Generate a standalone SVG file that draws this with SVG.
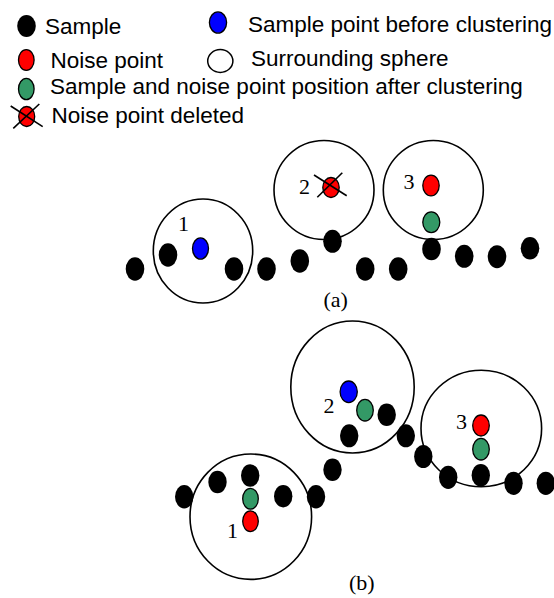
<svg xmlns="http://www.w3.org/2000/svg" width="554" height="598" viewBox="0 0 554 598">
<style>
.bg{fill:#fff}
.dot{fill:#000}
.red{fill:#ff0000;stroke:#000;stroke-width:1.3}
.grn{fill:#339966;stroke:#000;stroke-width:1.3}
.blu{fill:#0000ff;stroke:#000;stroke-width:1.3}
.wht{fill:#fff;stroke:#000;stroke-width:1.5}
.sph{fill:none;stroke:#000;stroke-width:1.6}
.x{stroke:#000;stroke-width:1.6;fill:none}
.lg{font-family:"Liberation Sans",Arial,sans-serif;font-size:22.5px;fill:#000}
.lb{font-family:"Liberation Serif","Times New Roman",serif;font-size:22px;fill:#000}
</style>
<rect class="bg" x="0" y="0" width="554" height="598"/>
<g id="legend">
  <g id="legend-sample">
    <ellipse class="dot" cx="26.5" cy="26" rx="9.3" ry="11"/>
    <text class="lg" x="45" y="34">Sample</text>
  </g>
  <g id="legend-before">
    <ellipse class="blu" cx="218" cy="22.5" rx="8.6" ry="10.6"/>
    <text class="lg" x="248" y="32">Sample point before clustering</text>
  </g>
  <g id="legend-noise">
    <ellipse class="red" cx="26.3" cy="60" rx="7.8" ry="10.4"/>
    <text class="lg" x="50.5" y="67.5">Noise point</text>
  </g>
  <g id="legend-sphere">
    <ellipse class="wht" cx="220.3" cy="61" rx="12.6" ry="11.4"/>
    <text class="lg" x="251" y="65.5">Surrounding sphere</text>
  </g>
  <g id="legend-after">
    <ellipse class="grn" cx="26.3" cy="89" rx="7.8" ry="10.6"/>
    <text class="lg" x="50" y="94">Sample and noise point position after clustering</text>
  </g>
  <g id="legend-deleted">
    <ellipse class="red" cx="26.7" cy="116.5" rx="8" ry="10"/>
    <line class="x" x1="10.7" y1="106" x2="42.7" y2="126.7"/>
    <line class="x" x1="39.3" y1="104" x2="13.3" y2="128.3"/>
    <text class="lg" x="51.5" y="122.5">Noise point deleted</text>
  </g>
</g>
<g id="panel-a">
  <g id="a-sphere1">
    <ellipse class="sph" cx="203" cy="251" rx="49.7" ry="52"/>
    <ellipse class="blu" cx="200.5" cy="248.5" rx="8" ry="10.6"/>
    <text class="lb" x="178" y="231">1</text>
  </g>
  <g id="a-sphere2">
    <ellipse class="sph" cx="324" cy="190" rx="50" ry="49.5"/>
    <ellipse class="red" cx="331" cy="187.5" rx="8.2" ry="10"/>
    <line class="x" x1="314" y1="175" x2="346.7" y2="195.7"/>
    <line class="x" x1="342.3" y1="172.7" x2="317.3" y2="197.3"/>
    <text class="lb" x="299" y="194.3">2</text>
  </g>
  <g id="a-sphere3">
    <ellipse class="sph" cx="433.3" cy="190" rx="50" ry="49.5"/>
    <ellipse class="red" cx="431" cy="185.5" rx="8.2" ry="10.4"/>
    <ellipse class="grn" cx="431.3" cy="222.2" rx="8.5" ry="10.4"/>
    <text class="lb" x="403.5" y="189.3">3</text>
  </g>
  <g id="a-samples">
    <ellipse class="dot" cx="135" cy="269" rx="9.3" ry="11.7"/>
    <ellipse class="dot" cx="168" cy="255" rx="9.3" ry="11.7"/>
    <ellipse class="dot" cx="234" cy="269" rx="9.3" ry="11.7"/>
    <ellipse class="dot" cx="266.5" cy="269" rx="9.3" ry="11.7"/>
    <ellipse class="dot" cx="299.8" cy="261" rx="9.3" ry="11.7"/>
    <ellipse class="dot" cx="332.5" cy="241.3" rx="9.3" ry="11.5"/>
    <ellipse class="dot" cx="365.2" cy="269" rx="9.3" ry="11.7"/>
    <ellipse class="dot" cx="398.2" cy="269" rx="9.3" ry="11.7"/>
    <ellipse class="dot" cx="431.5" cy="249" rx="9.3" ry="11.3"/>
    <ellipse class="dot" cx="464.2" cy="256.3" rx="9.3" ry="11.5"/>
    <ellipse class="dot" cx="497" cy="256.7" rx="9.3" ry="11.5"/>
    <ellipse class="dot" cx="530" cy="248.3" rx="9.3" ry="11.2"/>
  </g>
  <text id="label-a" class="lb" x="323.5" y="306.5">(a)</text>
</g>
<g id="panel-b">
  <g id="b-sphere1">
    <ellipse class="sph" cx="250.8" cy="516.7" rx="60.8" ry="62.7"/>
    <ellipse class="grn" cx="250.5" cy="498.8" rx="7.8" ry="10.4"/>
    <ellipse class="red" cx="250.5" cy="521.2" rx="7.8" ry="10.4"/>
    <text class="lb" x="227" y="537.7">1</text>
  </g>
  <g id="b-sphere2">
    <ellipse class="sph" cx="352.5" cy="387" rx="61.7" ry="66"/>
    <ellipse class="blu" cx="348.7" cy="391.8" rx="8.6" ry="10.8"/>
    <ellipse class="grn" cx="365" cy="410.2" rx="8.3" ry="10.8"/>
    <text class="lb" x="323.5" y="413.3">2</text>
  </g>
  <g id="b-sphere3">
    <ellipse class="sph" cx="481.3" cy="428.5" rx="60.3" ry="58.3"/>
    <ellipse class="red" cx="481" cy="425.5" rx="8.3" ry="10.5"/>
    <ellipse class="grn" cx="481" cy="449.2" rx="8.3" ry="10.8"/>
    <text class="lb" x="456" y="429.3">3</text>
  </g>
  <g id="b-samples">
    <ellipse class="dot" cx="184.2" cy="496.7" rx="9.2" ry="11.7"/>
    <ellipse class="dot" cx="217.5" cy="482" rx="9.2" ry="11.3"/>
    <ellipse class="dot" cx="250.2" cy="475.5" rx="9.2" ry="11.2"/>
    <ellipse class="dot" cx="283.2" cy="496.2" rx="9.2" ry="11.2"/>
    <ellipse class="dot" cx="316" cy="496.7" rx="9.2" ry="11.7"/>
    <ellipse class="dot" cx="332.5" cy="469.7" rx="9.2" ry="11.3"/>
    <ellipse class="dot" cx="349.2" cy="435.8" rx="9.2" ry="11.5"/>
    <ellipse class="dot" cx="386.7" cy="414.7" rx="9.2" ry="11.3"/>
    <ellipse class="dot" cx="405.8" cy="435.8" rx="9.2" ry="11.5"/>
    <ellipse class="dot" cx="423.3" cy="456.5" rx="9.2" ry="11.5"/>
    <ellipse class="dot" cx="448.2" cy="477.3" rx="9.2" ry="11.6"/>
    <ellipse class="dot" cx="480.8" cy="475.3" rx="9.2" ry="11.3"/>
    <ellipse class="dot" cx="513.5" cy="483.3" rx="9.2" ry="11.6"/>
    <ellipse class="dot" cx="545.8" cy="483.3" rx="9.2" ry="11.6"/>
  </g>
  <text id="label-b" class="lb" x="349" y="590">(b)</text>
</g>
</svg>
